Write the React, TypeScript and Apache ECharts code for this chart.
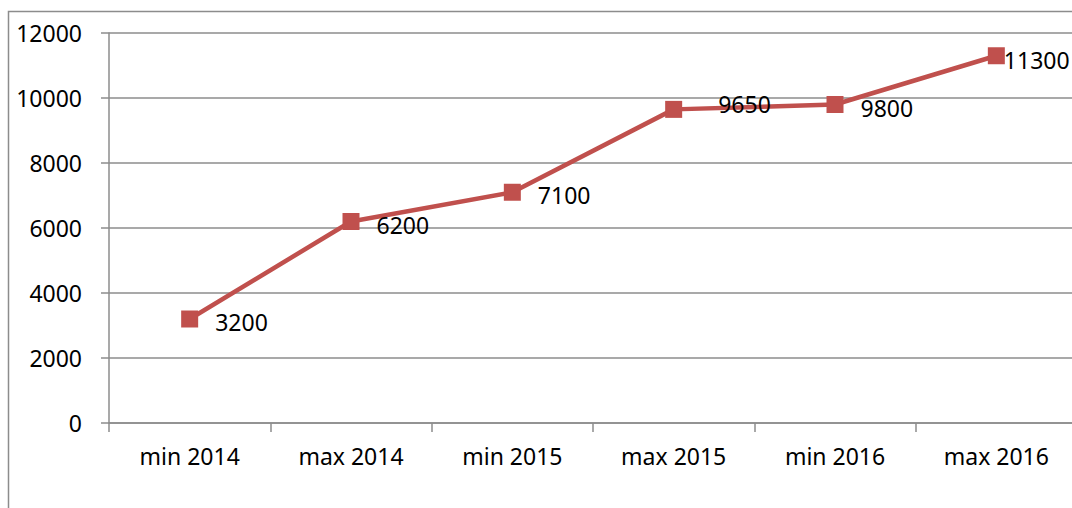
import React, { useEffect, useRef } from "react";
import * as echarts from "echarts";

const categories = ["min 2014", "max 2014", "min 2015", "max 2015", "min 2016", "max 2016"];
const values = [3200, 6200, 7100, 9650, 9800, 11300];
const yTicks = { min: 0, max: 12000, interval: 2000 };

export default function App() {
  const ref = useRef<HTMLDivElement>(null);
  useEffect(() => {
    if (!ref.current) return;
    const chart = echarts.init(ref.current, null, { renderer: "svg" });
    const font = "'Noto Sans', sans-serif";
    const fs = 23;
    const seriesData = values.map((v, i) => {
      if (i === 3) return { value: v, label: { distance: 36, offset: [0, -5] } };
      if (i === values.length - 1) return { value: v, label: { distance: -1, offset: [0, 4] } };
      return v;
    });
    chart.setOption({
      animation: false,
      backgroundColor: "#ffffff",
      graphic: [
        {
          type: "rect",
          shape: { x: 8.5, y: 11.5, width: 1100, height: 600 },
          style: { fill: "none", stroke: "#8c8c8c", lineWidth: 1.5 },
          silent: true,
          z: -1,
        },
      ],
      grid: { left: 109, top: 33, width: 968, bottom: 85, containLabel: false },
      xAxis: {
        type: "category",
        data: categories,
        boundaryGap: true,
        axisLine: { show: true, lineStyle: { color: "#8c8c8c", width: 1.5 } },
        axisTick: { show: true, length: 9, lineStyle: { color: "#8c8c8c", width: 1.5 } },
        axisLabel: { color: "#000", fontSize: fs, fontFamily: font, margin: 21 },
        splitLine: { show: false },
      },
      yAxis: {
        type: "value",
        min: yTicks.min,
        max: yTicks.max,
        interval: yTicks.interval,
        axisLine: { show: true, lineStyle: { color: "#8c8c8c", width: 1.5 } },
        axisTick: { show: true, length: 8, inside: false, lineStyle: { color: "#8c8c8c", width: 1.5 } },
        axisLabel: {
          color: "#000",
          fontSize: fs,
          fontFamily: font,
          margin: 27,
          formatter: (v: number) => String(v),
        },
        splitLine: { show: true, lineStyle: { color: "#8c8c8c", width: 1.5 } },
      },
      series: [
        {
          type: "line",
          data: seriesData,
          symbol: "rect",
          symbolSize: 17,
          itemStyle: { color: "#C0504D" },
          lineStyle: { color: "#C0504D", width: 4.5 },
          label: {
            show: true,
            position: "right",
            distance: 17,
            offset: [0, 3],
            color: "#000",
            fontSize: fs,
            fontFamily: font,
          },
        },
      ],
    });
    return () => chart.dispose();
  }, []);
  return (
    <div style={{ position: "absolute", left: 0, top: 0, width: 1072, height: 508, overflow: "hidden" }}>
      <div ref={ref} style={{ width: 1090, height: 508 }} />
    </div>
  );
}
